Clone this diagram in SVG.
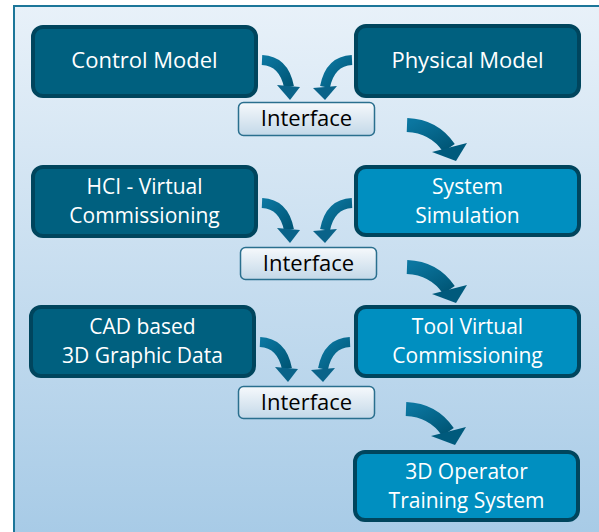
<svg xmlns="http://www.w3.org/2000/svg" xmlns:xlink="http://www.w3.org/1999/xlink" width="599" height="532" viewBox="0 0 599 532">
<defs>
<linearGradient id="bg" x1="0" y1="0" x2="0" y2="1">
<stop offset="0" stop-color="#e8f1f9"/>
<stop offset="1" stop-color="#a6cae6"/>
</linearGradient>
<linearGradient id="ifg" x1="0" y1="0" x2="0" y2="1">
<stop offset="0" stop-color="#f6f9fc"/>
<stop offset="1" stop-color="#c3d8e8"/>
</linearGradient>
<linearGradient id="arg" x1="0" y1="0" x2="1" y2="1">
<stop offset="0" stop-color="#0b76a0"/>
<stop offset="1" stop-color="#005676"/>
</linearGradient>
<g id="arrL">
<path d="M262,60 Q284,61 289,87" fill="none" stroke="url(#arg)" stroke-width="10"/>
<polygon points="277,85 300,87 290,100" fill="#0a6389"/>
</g>
<g id="arrR">
<path d="M352,60 Q330,61 325,87" fill="none" stroke="url(#arg)" stroke-width="10"/>
<polygon points="313,88 337,86 325,100" fill="#0a6389"/>
</g>
<g id="arrB">
<path d="M407,125 Q434,126 449,148" fill="none" stroke="url(#arg)" stroke-width="14"/>
<polygon points="432,152 467,143 456,161" fill="#005a7c"/>
</g>
</defs>
<style>
.dark{fill:#00607f;stroke:#00455d;stroke-width:4}
.light{fill:#008fc0;stroke:#00455d;stroke-width:4}
.iface{fill:url(#ifg);stroke:#2a6f8e;stroke-width:1.5}
.nt{font-family:"Open Sans","Noto Sans",sans-serif;font-size:22px;fill:#ffffff;text-anchor:middle}
.n2{font-family:"Open Sans","Noto Sans",sans-serif;font-size:21px;fill:#ffffff;text-anchor:middle}
.it{font-family:"Open Sans","Noto Sans",sans-serif;font-size:22px;fill:#000000;text-anchor:middle}
</style>
<rect x="0" y="0" width="599" height="532" fill="#ffffff"/>
<rect x="14" y="6" width="600" height="540" fill="url(#bg)" stroke="#1c7699" stroke-width="2"/>
<g id="connectors">
<use xlink:href="#arrL"/>
<use xlink:href="#arrR"/>
<use xlink:href="#arrB"/>
<use xlink:href="#arrL" transform="translate(0,143)"/>
<use xlink:href="#arrR" transform="translate(0,143)"/>
<use xlink:href="#arrB" transform="translate(0,142)"/>
<use xlink:href="#arrL" transform="translate(-2,282)"/>
<use xlink:href="#arrR" transform="translate(-2,282)"/>
<use xlink:href="#arrB" transform="translate(-1,284)"/>
</g>
<g id="control-model">
<rect class="dark" x="33" y="27" width="223" height="69" rx="10"/>
<text class="nt" x="144.5" y="68">Control Model</text>
</g>
<g id="physical-model">
<rect class="dark" x="356" y="26" width="223" height="70" rx="10"/>
<text class="nt" x="467.5" y="68">Physical Model</text>
</g>
<g id="interface-1">
<rect class="iface" x="238.5" y="102.5" width="136" height="33" rx="5"/>
<text class="it" x="306.5" y="126">Interface</text>
</g>
<g id="hci">
<rect class="dark" x="33" y="167" width="223" height="69" rx="10"/>
<text class="n2"><tspan x="144.5" y="193.5">HCI - Virtual</tspan><tspan x="144.5" y="222.5">Commissioning</tspan></text>
</g>
<g id="system-simulation">
<rect class="light" x="356" y="167" width="223" height="68" rx="10"/>
<text class="n2"><tspan x="467.5" y="193.5">System</tspan><tspan x="467.5" y="222.5">Simulation</tspan></text>
</g>
<g id="interface-2">
<rect class="iface" x="240.5" y="247.5" width="136" height="32" rx="5"/>
<text class="it" x="308.5" y="271">Interface</text>
</g>
<g id="cad">
<rect class="dark" x="31" y="307" width="223" height="69" rx="10"/>
<text class="n2"><tspan x="142.5" y="333.5">CAD based</tspan><tspan x="142.5" y="362.5">3D Graphic Data</tspan></text>
</g>
<g id="tool-vc">
<rect class="light" x="356" y="307" width="223" height="69" rx="10"/>
<text class="n2"><tspan x="467.5" y="333.5">Tool Virtual</tspan><tspan x="467.5" y="362.5">Commissioning</tspan></text>
</g>
<g id="interface-3">
<rect class="iface" x="238.5" y="386.5" width="136" height="32" rx="5"/>
<text class="it" x="306.5" y="410">Interface</text>
</g>
<g id="operator-training">
<rect class="light" x="355" y="452" width="223" height="68" rx="10"/>
<text class="n2"><tspan x="466.5" y="478.5">3D Operator</tspan><tspan x="466.5" y="507.5">Training System</tspan></text>
</g>
</svg>
